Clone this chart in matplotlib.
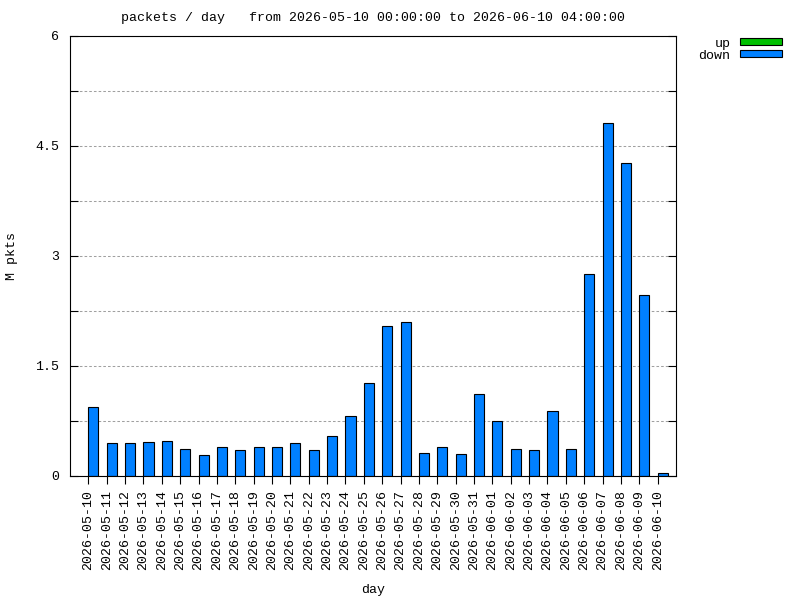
import matplotlib
matplotlib.use("Agg")
import matplotlib.pyplot as plt
from matplotlib.patches import Patch
import numpy as np

days = ["2026-05-10", "2026-05-11", "2026-05-12", "2026-05-13", "2026-05-14", "2026-05-15",
        "2026-05-16", "2026-05-17", "2026-05-18", "2026-05-19", "2026-05-20", "2026-05-21",
        "2026-05-22", "2026-05-23", "2026-05-24", "2026-05-25", "2026-05-26", "2026-05-27",
        "2026-05-28", "2026-05-29", "2026-05-30", "2026-05-31", "2026-06-01", "2026-06-02",
        "2026-06-03", "2026-06-04", "2026-06-05", "2026-06-06", "2026-06-07", "2026-06-08",
        "2026-06-09", "2026-06-10"]
down = [0.937, 0.445, 0.445, 0.459, 0.473, 0.364, 0.282, 0.391, 0.350, 0.391, 0.391, 0.445,
        0.350, 0.541, 0.814, 1.264, 2.041, 2.095, 0.309, 0.391, 0.295, 1.114, 0.745, 0.364,
        0.350, 0.882, 0.364, 2.750, 4.809, 4.264, 2.464, 0.036]
up = [0.0] * len(days)
yticks_major = [0, 1.5, 3, 4.5, 6]

FONT = "Liberation Mono"
FS = 9.5
LW = 0.8

fig = plt.figure(figsize=(8, 6), dpi=100)
ax = fig.add_axes([70/800, 1-476/600, (676-70)/800, (476-36)/600])

x = np.arange(len(days))
ax.bar(x, up, width=0.55, align="edge", color="#00c000", edgecolor="black", linewidth=LW)
ax.bar(x, down, width=0.55, align="edge", color="#0080ff", edgecolor="black", linewidth=LW, zorder=3)

ax.set_xlim(-1, len(days))
ax.set_ylim(0, 6)
ax.set_xticks(x)
ax.set_xticklabels(days, rotation=90, fontfamily=FONT, fontsize=FS)
ax.set_yticks(yticks_major)
ax.set_yticklabels(["0", "1.5", "3", "4.5", "6"], fontfamily=FONT, fontsize=FS)
ax.set_yticks(np.arange(0.75, 6, 1.5), minor=True)
ax.tick_params(axis="y", which="both", direction="in", right=True, length=6, width=LW, pad=8)
ax.tick_params(axis="x", direction="out", length=6, width=LW, top=False, pad=4)
ax.grid(axis="y", which="both", color="#a0a0a0", linestyle=(0, (2.5, 2.0)), linewidth=0.75)
ax.set_axisbelow(True)
for s in ax.spines.values():
    s.set_linewidth(LW)
    s.set_zorder(5)

ax.set_xlabel("day", fontfamily=FONT, fontsize=FS, labelpad=10)
fig.text(12/800, 1-256/600, "M pkts", rotation=90, ha="center", va="center",
         fontfamily=FONT, fontsize=FS)
fig.text(373/800, 1-17.5/600, "packets / day   from 2026-05-10 00:00:00 to 2026-06-10 04:00:00",
         ha="center", va="center", fontfamily=FONT, fontsize=FS)

handles = [Patch(facecolor="#00c000", edgecolor="black", linewidth=LW, label="up"),
           Patch(facecolor="#0080ff", edgecolor="black", linewidth=LW, label="down")]
fig.legend(handles=handles, loc="upper right", bbox_to_anchor=(789/800, 1-31/600),
           frameon=False, markerfirst=False, prop={"family": FONT, "size": FS},
           handlelength=3.2, handleheight=0.45, labelspacing=0.0, borderpad=0,
           handletextpad=0.75)

fig.savefig("out.png", dpi=100)
